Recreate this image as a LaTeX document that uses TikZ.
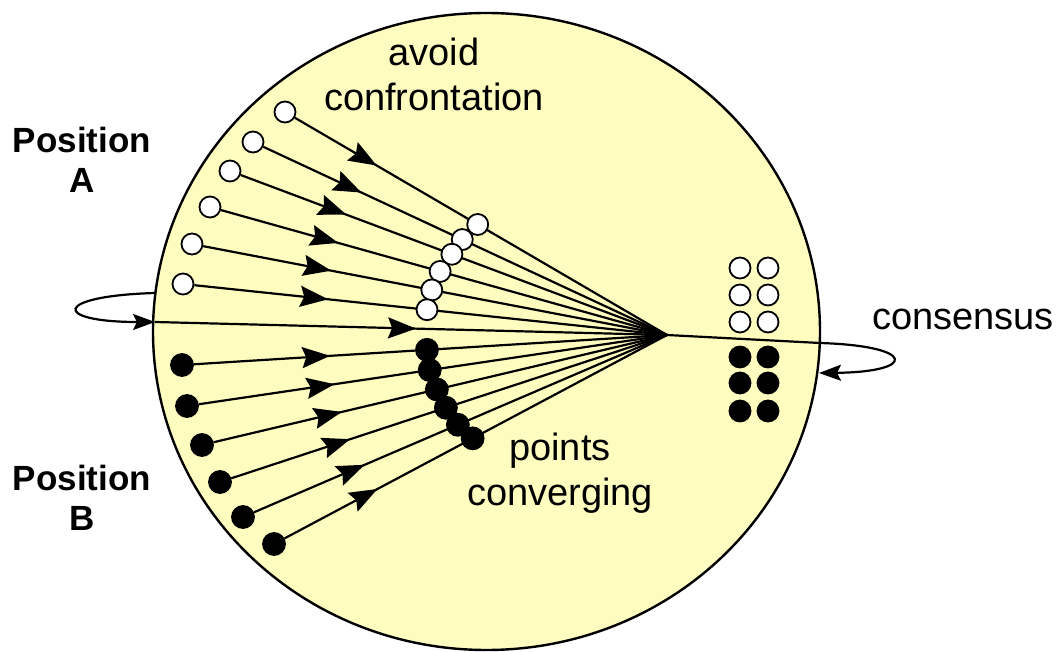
\documentclass[tikz,border=0pt]{standalone}
\usepackage{fontspec}
\setmainfont{Liberation Sans}
\usetikzlibrary{arrows.meta,calc,decorations.markings}
\definecolor{paper}{HTML}{FFFCC0}
\tikzset{opendot/.style={circle,draw,fill=white,line width=1.8pt,minimum size=21pt,inner sep=0pt}, shutdot/.style={opendot,fill=black,minimum size=22pt}, flow/.style={line width=2.2pt,postaction={decorate},decoration={markings,mark=at position #1 with {\arrow{Stealth[length=28pt,width=21pt,inset=4pt]}}}}, loop/.style={line width=2.2pt,-{Stealth[length=22pt,width=16pt,inset=4pt]}}, tag/.style={font=\fontsize{38}{45}\selectfont,align=center,inner sep=0pt}, side/.style={font=\bfseries\fontsize{35}{40}\selectfont,align=center,inner sep=0pt}}

\begin{document}
\begin{tikzpicture}[x=1pt,y=-1pt]
\useasboundingbox (0,0) rectangle (1061,652);
\draw[line width=2.4pt,fill=paper] (486.5,331.5) ellipse [x radius=333.5,y radius=318.5];
% starting points
\foreach \n/\x/\y in {1/285/112,2/253/142,3/230/171,4/210/207,5/192/244,6/183/284}
  \node[opendot] (a\n) at (\x,\y) {};
\foreach \n/\x/\y in {1/182/365,2/187/406,3/202/445,4/220/482,5/243/517,6/274/544}
  \node[shutdot] (b\n) at (\x,\y) {};
\coordinate (c) at (667,335);
\coordinate (lin) at (155,322);
\coordinate (lout) at (155,293);
\coordinate (rout) at (820,343);
\coordinate (rin) at (819,373);
% paths to the meeting point
\foreach \n/\f in {1/.22,2/.243,3/.248,4/.263,5/.276,6/.283}
  \draw[flow=\f] (a\n) -- (c);
\foreach \n/\f in {1/.288,2/.29,3/.283,4/.273,5/.268,6/.243}
  \draw[flow=\f] (b\n) -- (c);
\draw[flow=.51] (lin) -- (c);
\draw[loop] (lout) .. controls (52,296) and (52,322) .. (lin);
\draw[loop] (c) -- (rout) .. controls (917,346) and (917,372) .. (rin);
% points on the way
\foreach \n/\x/\y in {1/478/224,2/463/238,3/452/254,4/440/272,5/432/289,6/427/310}
  \node[opendot] (ma\n) at ($(a\n)!(\x,\y)!(c)$) {};
\foreach \n/\x/\y in {1/427/350,2/430/372,3/437/390,4/446/408,5/458/425,6/473/439}
  \node[shutdot] (mb\n) at ($(b\n)!(\x,\y)!(c)$) {};
% consensus block
\foreach \y in {268,295,322} \foreach \x in {740,768}
  \node[opendot] (w\x-\y) at (\x,\y) {};
\foreach \y in {357,383,411} \foreach \x in {740,768}
  \node[shutdot,minimum size=21pt] (k\x-\y) at (\x,\y) {};
% labels
\node[tag,anchor=north] (avoid) at (434,38) {avoid\\confrontation};
\node[side,anchor=north] (posa) at (82,127) {Position\\A};
\node[side,anchor=north] (posb) at (82,465) {Position\\B};
\node[tag,anchor=north] (conv) at (560,433) {points\\converging};
\node[tag,anchor=base] (cons) at (963,330) {consensus};
\end{tikzpicture}
\end{document}
